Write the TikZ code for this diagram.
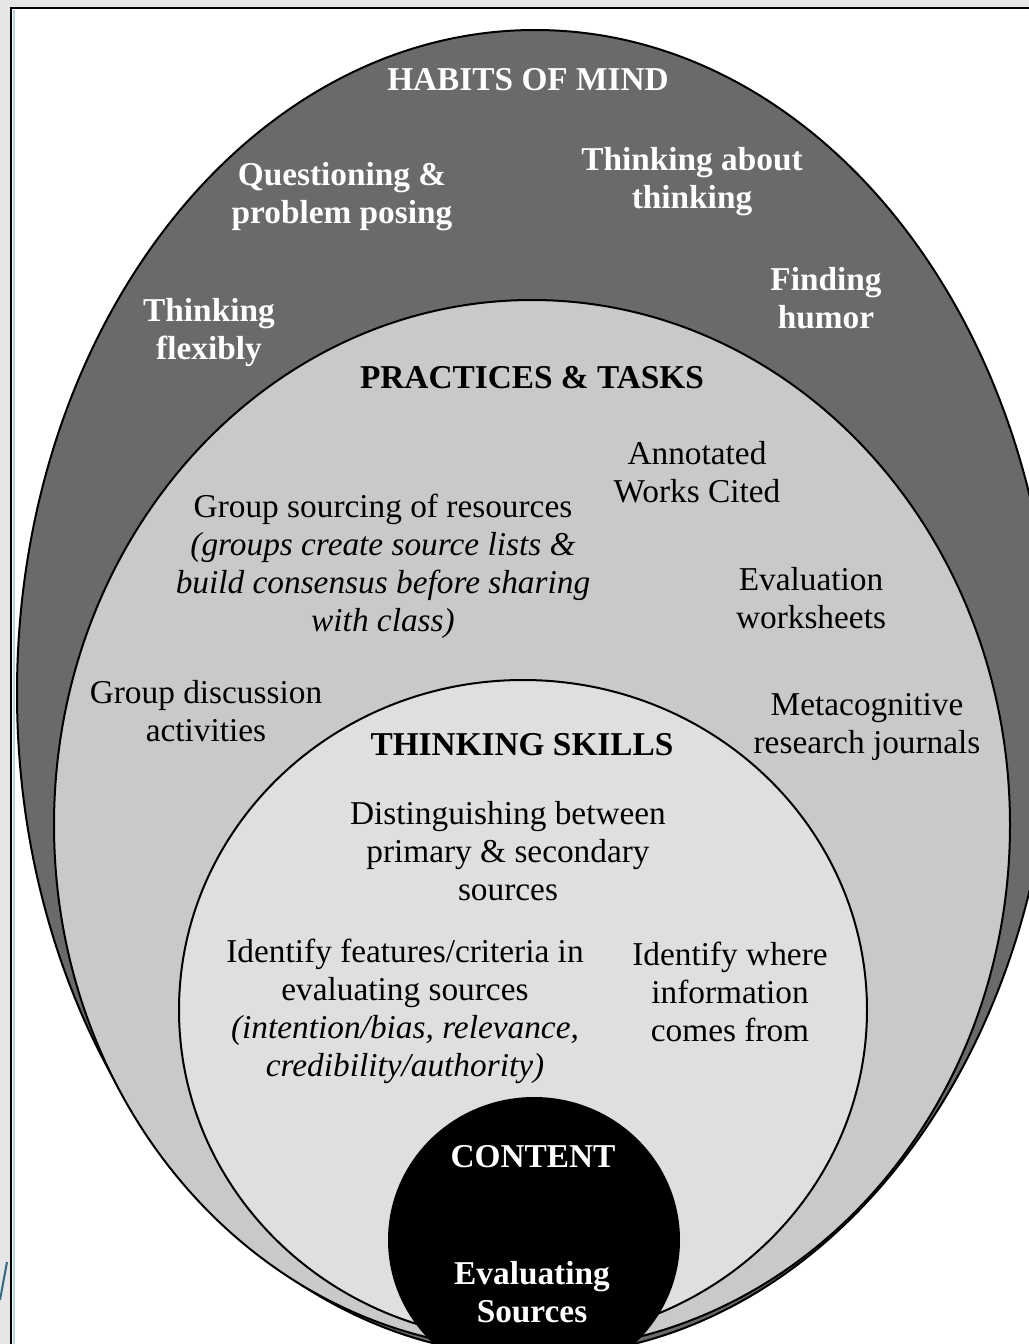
\documentclass[tikz,border=0pt]{standalone}
\usepackage{fontspec}
\setmainfont{Liberation Serif}
\usepackage{tikz}
\usepackage{xcolor}
\definecolor{pagegray}{HTML}{E6E6E6}
\definecolor{framesky}{HTML}{B9D5E4}
\definecolor{habitgray}{HTML}{6A6A6A}
\definecolor{practicegray}{HTML}{C9C9C9}
\definecolor{skillgray}{HTML}{DFDFDF}
\definecolor{penteal}{HTML}{2E6A80}
\tikzstyle{every node}=[font=\fontsize{10}{11.4}\selectfont, inner sep=0pt, align=center]
\tikzstyle{ring} = [draw=black, line width=0.6pt]
\tikzstyle{headline} = [font=\fontsize{10}{11.4}\selectfont\bfseries]
\tikzstyle{habit} = [text=white, font=\fontsize{10}{11.4}\selectfont\bfseries]
\tikzstyle{practice} = [text=black]
\tikzstyle{skill} = [text=black]

\begin{document}
\begin{tikzpicture}[x=0.3pt, y=-0.3pt]
    \useasboundingbox (0,0) rectangle (1029,1344);
    \clip (0,0) rectangle (1029,1344);
    % Page and frame
    \fill [pagegray] (0,0) rectangle (1029,1344);
    \fill [white] (11,8) rectangle (1029,1344);
    \draw [framesky, line width=0.6pt] (14,10) -- (14,1344);
    \draw [black, line width=0.6pt] (11,1344) -- (11,8) -- (1029,8);
    \draw [penteal, line width=0.6pt] (0,1300) -- (7,1262);
    % Draw rings
    \path [ring, fill=habitgray] (535,693) ellipse [x radius=518, y radius=663];
    \path [ring, fill=practicegray] (532,825) ellipse [x radius=478, y radius=525];
    \path [ring, fill=skillgray] (523,1010) ellipse [x radius=344, y radius=330];
    \path [ring, fill=black] (534,1240) ellipse [x radius=145, y radius=142];
    % Place nodes
    \node [habit] (habits) at (528,80) {HABITS OF MIND};
    \node [habit] (questioning) at (342,197) {Questioning \&\\problem posing};
    \node [habit] (aboutthinking) at (692,182) {Thinking about\\thinking};
    \node [habit] (humor) at (826,298) {Finding\\humor};
    \node [habit] (flexibly) at (209,333) {Thinking\\flexibly};
    \node [headline, practice] (practices) at (532,378) {PRACTICES \& TASKS};
    \node [practice] (annotated) at (697,472) {Annotated\\Works Cited};
    \node [practice] (sourcing) at (383,566) {Group sourcing of resources\\\textit{(groups create source lists \&}\\\textit{build consensus before sharing}\\\textit{with class)}};
    \node [practice] (worksheets) at (811,598) {Evaluation\\worksheets};
    \node [practice] (discussion) at (206,711) {Group discussion\\activities};
    \node [practice] (journals) at (867,727) {Metacognitive\\research journals};
    \node [headline, skill] (skills) at (522,745) {THINKING SKILLS};
    \node [skill] (distinguish) at (508,851) {Distinguishing between\\primary \& secondary\\sources};
    \node [skill] (features) at (405,1011) {Identify features/criteria in\\evaluating sources\\\textit{(intention/bias, relevance,}\\\textit{credibility/authority)}};
    \node [skill] (where) at (730,992) {Identify where\\information\\comes from};
    \node [habit] (content) at (533,1157) {CONTENT};
    \node [habit] (evaluating) at (532,1292) {Evaluating\\Sources};
\end{tikzpicture}
\end{document}
